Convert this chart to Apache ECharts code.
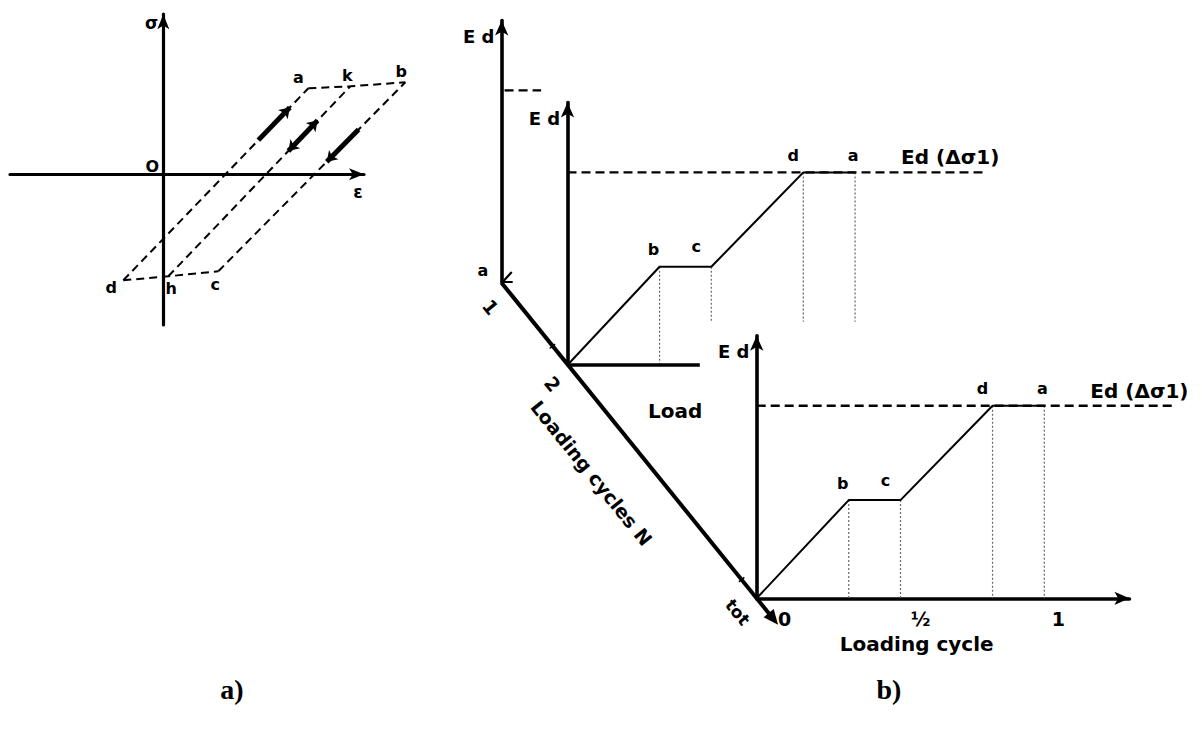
<!DOCTYPE html>
<html>
<head>
<meta charset="utf-8">
<title>Dynamic modulus over a loading cycle</title>
<script src="https://cdn.jsdelivr.net/npm/echarts@6.0.0/dist/echarts.min.js"></script>
<style>
  html, body { margin: 0; padding: 0; background: #fff; }
  #chart { width: 1202px; height: 729px; }
</style>
</head>
<body>
<div id="chart"></div>
<script>
// ---------- a) stress–strain loops ----------
const cornerNames  = ['d', 'h', 'c', 'a', 'k', 'b'];
const cornerStrain = [-0.40, 0.05, 0.55, 1.45, 1.87, 2.42];
const cornerStress = [-1.06, -1.02, -0.97, 0.86, 0.88, 0.92];
const loopBranches = [[0, 3], [1, 4], [2, 5]];   // d–a, h–k, c–b
const loopBottom   = [0, 1, 2];                   // d–h–c
const loopTop      = [3, 4, 5];                   // a–k–b
const arrowFrom    = [0.73, 0.66, 0.75];          // fraction along each branch
const arrowTo      = [0.90, 0.82, 0.58];
const arrowHeads   = [['none', 'arrow'], ['arrow', 'arrow'], ['none', 'arrow']];

// ---------- b) Ed within one loading cycle ----------
const cyclePhase    = [0, 0.32, 0.50, 0.82, 1.00];
const cycleEd       = [0, 0.51, 0.51, 1.00, 1.00];
const phaseNames    = ['', 'b', 'c', 'd', 'a'];
const edRef         = 1.00;                 // Ed(Δσ1)
const phaseTicks    = [0, 0.5, 1];
const phaseTickText = ['0', '½', '1'];
const cycleNames    = ['1', '2', 'tot'];

// ---------- layout ----------
const INK = '#000';
const FONT = '"DejaVu Sans", "Liberation Sans", sans-serif';
const SERIF = '"Liberation Serif", "DejaVu Serif", serif';

// panel a: 100 px per unit around the σ–ε origin
const A_ORIGIN = [163.3, 174.3], A_UNIT = [100, 100];
const A_EPS_AXIS = [-1.533, 2.007], A_EPS_DATA = [-1.533, 2.6];
const A_SIG = [-1.507, 1.601];
const cornerLabelOffset = [[-12, 7], [3, 12], [-3, 13], [-10, -11], [-3, -11], [-4, -11]];

// panel b: three cycle planes sharing one scale
const B_UNIT = [287.6, 192.6];
const XMAX_AXIS = 1.296, XMAX_DATA = 1.5, YMAX = 1.363;
const planeOrigin = [[501.7, 283.0], [567.5, 365.0], [756.7, 598.3]];
const DASH_END = 1.455, BACK_BASE_END = 0.46, BACK_DROP_CUT = 0.225;
const phaseLabelOffset = [null, [-6, -17], [-15, -20], [-10, -17], [-2, -17]];
const tickLabelOffset = [[28, 21], [20, 21], [14, 21]];

const grids = [], xAxes = [], yAxes = [], series = [];

// a grid placed so that data value 0 sits on the given pixel origin
function addGrid(origin, unit, xr, yr, showX, showY, width, arrow) {
  const gi = grids.length;
  grids.push({
    left: origin[0] + xr[0] * unit[0], width: (xr[1] - xr[0]) * unit[0],
    top: origin[1] - yr[1] * unit[1], height: (yr[1] - yr[0]) * unit[1],
    containLabel: false, outerBoundsMode: 'none'
  });
  const ax = (min, max, show) => ({
    type: 'value', gridIndex: gi, min, max,
    axisLine: {
      show, onZero: true, symbol: ['none', 'arrow'], symbolSize: arrow,
      lineStyle: { color: INK, width }
    },
    axisTick: { show: false }, axisLabel: { show: false }, splitLine: { show: false }
  });
  xAxes.push(ax(xr[0], xr[1], showX));
  yAxes.push(ax(yr[0], yr[1], showY));
  return gi;
}
function seg(gi, pts, lineStyle, z) {
  return {
    type: 'line', xAxisIndex: gi, yAxisIndex: gi, data: pts, symbol: 'none',
    clip: false, silent: true, z: z || 2, lineStyle: Object.assign({ color: INK }, lineStyle)
  };
}
function textSeries(gi, items, size) {
  return {
    type: 'scatter', xAxisIndex: gi, yAxisIndex: gi, symbolSize: 0, silent: true, z: 5, clip: false,
    itemStyle: { opacity: 1, color: INK },
    label: {
      show: true, position: 'inside', color: INK, textBorderWidth: 0, opacity: 1,
      fontFamily: FONT, fontWeight: 'bold', fontSize: size
    },
    data: items
  };
}

// ---- panel a ----
const gA = addGrid(A_ORIGIN, A_UNIT, A_EPS_DATA, A_SIG, false, false, 0, [0, 0]);
addGrid(A_ORIGIN, A_UNIT, A_EPS_AXIS, A_SIG, true, true, 3.2, [9, 15]);

const corner = i => [cornerStrain[i], cornerStress[i]];
const dashA = { type: [8, 5], width: 2 };
loopBranches.forEach(([i, j]) => series.push(seg(gA, [corner(i), corner(j)], dashA)));
series.push(seg(gA, loopBottom.map(corner), dashA));
series.push(seg(gA, loopTop.map(corner), dashA));

const along = (i, j, t) => [
  cornerStrain[i] + t * (cornerStrain[j] - cornerStrain[i]),
  cornerStress[i] + t * (cornerStress[j] - cornerStress[i])
];
series.push({
  type: 'line', xAxisIndex: gA, yAxisIndex: gA, data: [], silent: true, z: 4,
  markLine: {
    silent: true, animation: false, symbolSize: 10,
    label: { show: false },
    lineStyle: { type: 'solid', width: 5, color: INK },
    emphasis: { disabled: true },
    data: loopBranches.map(([i, j], k) => [
      { coord: along(i, j, arrowFrom[k]), symbol: arrowHeads[k][0] },
      { coord: along(i, j, arrowTo[k]), symbol: arrowHeads[k][1] }
    ])
  }
});
series.push(textSeries(gA, cornerNames.map((nm, i) => ({
  value: corner(i), label: { formatter: nm, offset: cornerLabelOffset[i] }
})), 16));

// ---- panel b ----
const curve = cyclePhase.map((p, i) => [p, cycleEd[i]]);
const planeGrid = [];
planeOrigin.forEach((o, k) => {
  const isFront = k === 2, isFar = k === 0;
  const gi = addGrid(o, B_UNIT, [0, XMAX_DATA], [0, YMAX], false, false, 0, [0, 0]);
  addGrid(o, B_UNIT, [0, XMAX_AXIS], [0, YMAX], isFront, true, 3.6, [10, 15]);
  planeGrid.push(gi);

  const dash = { type: [9, 5], width: 2.4 };
  if (isFar) {
    series.push(seg(gi, [[0.01, edRef], [0.137, edRef]], dash));
    return;
  }
  series.push(seg(gi, [[0, edRef], [DASH_END, edRef]], dash, 2));
  if (!isFront) series.push(seg(gi, [[0, 0], [BACK_BASE_END, 0]], { width: 3.6 }, 3));
  // dotted drop lines from every corner of the curve
  curve.slice(1).forEach(([p, e]) => {
    const bottom = (!isFront && p > BACK_BASE_END) ? BACK_DROP_CUT : 0;
    series.push(seg(gi, [[p, e], [p, bottom]], { type: [2, 2], width: 1.2, color: '#666' }, 1));
  });
  series.push(seg(gi, curve, { width: 2 }, 3));
  series.push(textSeries(gi, curve.slice(1).map((pt, i) => ({
    value: pt, label: { formatter: phaseNames[i + 1], offset: phaseLabelOffset[i + 1] }
  })), 16));
  if (isFront) {
    series.push(textSeries(gi, phaseTicks.map((t, i) => ({
      value: [t, 0], label: { formatter: phaseTickText[i], offset: tickLabelOffset[i] }
    })), 19));
  }
});

const chart = echarts.init(document.getElementById('chart'), null, { renderer: 'svg' });
chart.setOption({
  animation: false,
  backgroundColor: '#fff',
  grid: grids, xAxis: xAxes, yAxis: yAxes, series
});

// ---- annotations placed from the axes' own pixel mapping ----
const P = (g, v) => chart.convertToPixel({ gridIndex: g }, v);
const txt = (x, y, text, size, extra) => Object.assign({
  type: 'text', x, y, silent: true, z: 10,
  style: Object.assign({
    text, fill: INK, font: 'bold ' + size + 'px ' + FONT,
    align: 'center', verticalAlign: 'middle'
  }, (extra && extra.style) || {})
}, extra ? { rotation: extra.rotation || 0 } : {});

const g = [];
const oA = P(gA, [0, 0]);
g.push(txt(oA[0] - 11.6, oA[1] - 151, 'σ', 17));
g.push(txt(oA[0] - 11, oA[1] - 7.6, 'O', 16));
g.push(txt(oA[0] + 194.7, oA[1] + 17.4, 'ε', 17));

const org = planeGrid.map(gi => P(gi, [0, 0]));
const [far, back, front] = org;
const L = Math.hypot(front[0] - far[0], front[1] - far[1]);
const u = [(front[0] - far[0]) / L, (front[1] - far[1]) / L];
const nrm = [u[1], -u[0]];
const rot = -Math.atan2(u[1], u[0]);
const tip = [front[0] + 34 * u[0], front[1] + 34 * u[1]];
const base = [tip[0] - 15 * u[0], tip[1] - 15 * u[1]];

// N axis (loading cycles)
g.push({
  type: 'line', silent: true, z: 6,
  shape: { x1: far[0], y1: far[1], x2: base[0] + 3 * u[0], y2: base[1] + 3 * u[1] },
  style: { stroke: INK, lineWidth: 4 }
});
g.push({
  type: 'polygon', silent: true, z: 6,
  shape: { points: [tip, [base[0] + 6.5 * nrm[0], base[1] + 6.5 * nrm[1]], [base[0] - 6.5 * nrm[0], base[1] - 6.5 * nrm[1]]] },
  style: { fill: INK }
});
[back, front].forEach(o => {
  const c = [o[0] - 24 * u[0], o[1] - 24 * u[1]];
  g.push({
    type: 'line', silent: true, z: 6,
    shape: { x1: c[0] - 3.5 * nrm[0], y1: c[1] - 3.5 * nrm[1], x2: c[0] + 3.5 * nrm[0], y2: c[1] + 3.5 * nrm[1] },
    style: { stroke: INK, lineWidth: 1.5 }
  });
});
g.push({
  type: 'polyline', silent: true, z: 6,
  shape: { points: [[far[0] + 10, far[1] - 11], [far[0] + 1, far[1] - 1], [far[0] + 11, far[1] - 1]] },
  style: { stroke: INK, lineWidth: 2.2, fill: null }
});
const cycOff = [[-11, 24], [-15, 19], [-19, 14]];
cycleNames.forEach((nm, i) => {
  g.push(txt(org[i][0] + cycOff[i][0], org[i][1] + cycOff[i][1], nm, i === 2 ? 17 : 19, { rotation: rot }));
});
g.push(txt(back[0] + 24, back[1] + 108, 'Loading cycles N', 19, { rotation: rot }));

// plane captions
org.forEach(o => g.push(txt(o[0] - 23, o[1] - 247, 'E d', 18)));
g.push(txt(far[0] - 18.7, far[1] - 13, 'a', 16));
planeGrid.slice(1).forEach(gi => {
  const p = P(gi, [1.16, edRef]);
  g.push(txt(p[0], p[1] - 15, 'Ed (Δσ1)', 20, { style: { align: 'left' } }));
});
g.push(txt(back[0] + 80.5, back[1] + 46, 'Load', 20, { style: { align: 'left' } }));
g.push(txt(front[0] + 160, front[1] + 46, 'Loading cycle', 20));

// sub-figure captions
g.push(txt(232, 689, 'a)', 28, { style: { font: 'bold 28px ' + SERIF } }));
g.push(txt(889, 689, 'b)', 28, { style: { font: 'bold 28px ' + SERIF } }));

chart.setOption({ graphic: { elements: g } });
</script>
</body>
</html>
